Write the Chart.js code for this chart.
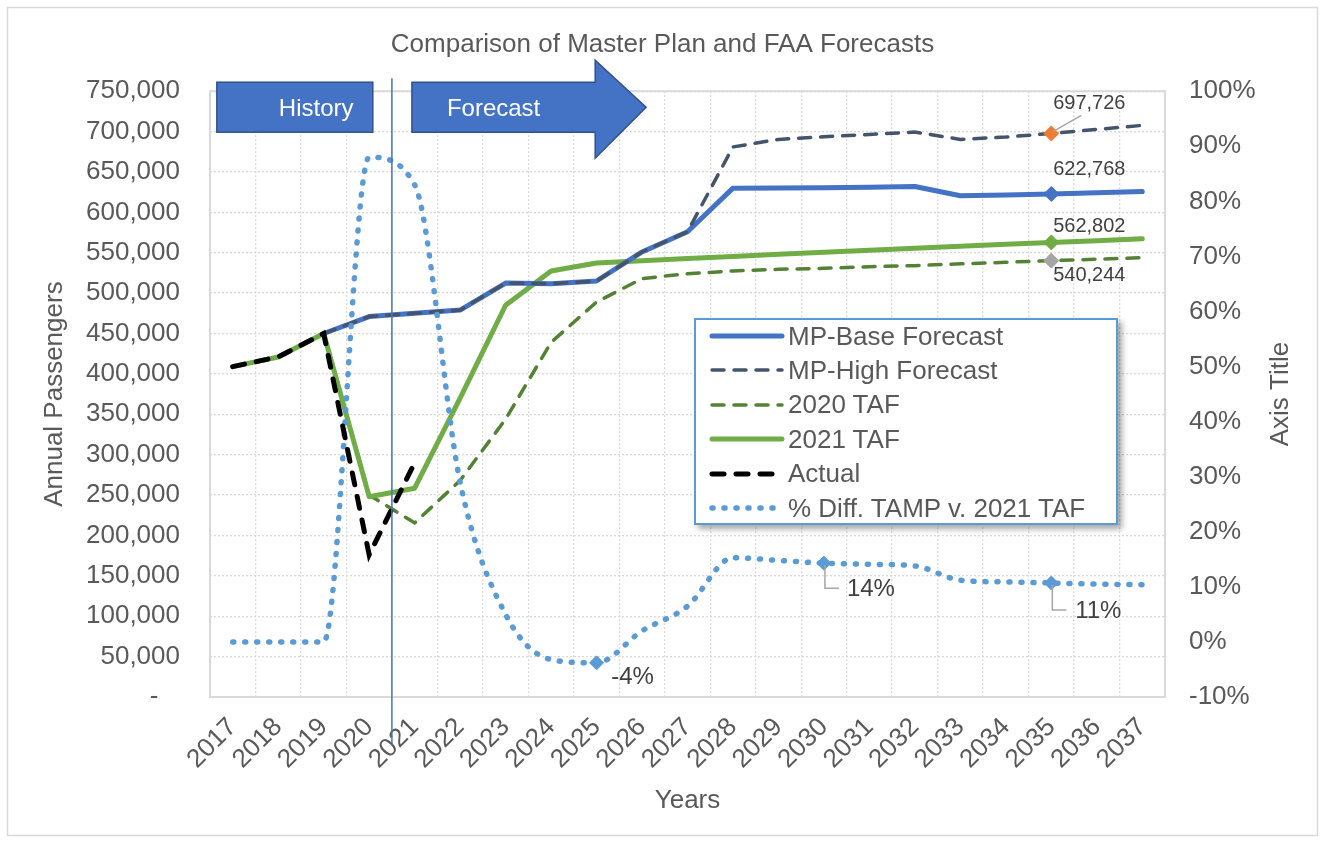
<!DOCTYPE html>
<html>
<head>
<meta charset="utf-8">
<script src="https://cdn.jsdelivr.net/npm/chart.js@4.4.1/dist/chart.umd.min.js"></script>
<style>
    body { margin: 0; background: #fff; }
    #wrap { position: relative; width: 1325px; height: 843px; }
    #legend {
        position: absolute; left: 694px; top: 318px; width: 420px; height: 203px;
        border: 2px solid #5B9BD5; background: #fff;
        box-shadow: 4px 4px 6px rgba(0, 0, 0, 0.35);
        font-family: "Liberation Sans", Arial, sans-serif; font-size: 26px; color: #595959;
    }
    #legend .row { position: absolute; left: 13px; height: 34px; display: flex; align-items: center; white-space: nowrap; }
    #legend svg { margin-right: 3px; }
</style>
</head>
<body>
<div id="wrap">
    <canvas id="chart" width="1325" height="843"></canvas>
    <div id="legend"></div>
</div>
<script>
var years = ['2017', '2018', '2019', '2020', '2021', '2022', '2023', '2024', '2025', '2026', '2027',
    '2028', '2029', '2030', '2031', '2032', '2033', '2034', '2035', '2036', '2037'];

var mpBase = [null, null, 450000, 471000, 475000, 479000, 512500, 511500, 515000, 551000, 576000,
    630000, 630300, 630600, 631000, 632000, 620500, 621600, 622768, 624300, 625800];
var mpHigh = [null, null, 450000, 471000, 475000, 479000, 512500, 511500, 515000, 551000, 576000,
    681000, 690300, 693600, 696500, 699400, 690300, 693200, 697726, 702700, 707700];
var taf2020 = [409000, 421000, 450000, 250000, 215500, 268000, 344000, 439000, 489000, 518000, 524000,
    527400, 529500, 530700, 532700, 534000, 536300, 538200, 540244, 541900, 543900];
var taf2021 = [409000, 421000, 450000, 248000, 258500, 370000, 485000, 527500, 537300, 540000, 543000,
    545500, 548000, 550500, 553000, 555500, 558000, 560500, 562802, 565000, 567200];
var actual = [409000, 421000, 450000, 176000, 290000, null, null, null, null, null, null,
    null, null, null, null, null, null, null, null, null, null];
var pctDiff = [0, 0, 0, 88, 83, 29, 5, -3.2, -3.8, 2, 6.5,
    15.3, 14.8, 14.3, 14.1, 13.8, 11.2, 10.9, 10.7, 10.5, 10.4];

var FONT = '"Liberation Sans", Arial, sans-serif';
var GREY = '#595959';
var markYear = 18;            // 2035
var pctMarks = [8, 13, 18];   // 2025, 2030, 2035

function onlyAt(idx, size) {
    return function(c) { return idx.indexOf(c.dataIndex) >= 0 ? size : 0; };
}

var decor = {
    id: 'decor',
    beforeDraw: function(chart) {
        var ctx = chart.ctx;
        ctx.save();
        ctx.fillStyle = '#fff';
        ctx.fillRect(0, 0, chart.width, chart.height);
        ctx.strokeStyle = '#D9D9D9';
        ctx.lineWidth = 1.5;
        ctx.strokeRect(7.5, 7.5, chart.width - 15, chart.height - 15);
        ctx.restore();
    },
    beforeDatasetsDraw: function(chart) {
        var ctx = chart.ctx, a = chart.chartArea;
        ctx.save();
        ctx.strokeStyle = '#D9D9D9';
        ctx.lineWidth = 2;
        ctx.strokeRect(a.left, a.top, a.right - a.left, a.bottom - a.top);
        ctx.restore();
    },
    afterDatasetsDraw: function(chart) {
        var ctx = chart.ctx;
        function pt(ds) { return chart.getDatasetMeta(ds).data[markYear]; }
        ctx.save();
        ctx.fillStyle = '#404040';
        ctx.strokeStyle = '#A6A6A6';
        ctx.lineWidth = 1.5;
        ctx.textAlign = 'center';
        ctx.textBaseline = 'middle';
        ctx.font = '20px ' + FONT;

        var p = pt(1);
        ctx.beginPath();
        ctx.moveTo(p.x + 2, p.y - 2);
        ctx.lineTo(p.x + 30, p.y - 18);
        ctx.stroke();
        ctx.fillText(mpHigh[markYear].toLocaleString('en-US'), p.x + 38, p.y - 30);
        p = pt(0);
        ctx.fillText(mpBase[markYear].toLocaleString('en-US'), p.x + 38, p.y - 24);
        p = pt(3);
        ctx.fillText(taf2021[markYear].toLocaleString('en-US'), p.x + 38, p.y - 16);
        p = pt(2);
        ctx.fillText(taf2020[markYear].toLocaleString('en-US'), p.x + 38, p.y + 15);

        // percent call-outs
        var meta = chart.getDatasetMeta(5);
        ctx.font = '24px ' + FONT;
        p = meta.data[pctMarks[0]];
        ctx.fillText(Math.round(pctDiff[pctMarks[0]]) + '%', p.x + 36, p.y + 15);
        [[pctMarks[1], 26], [pctMarks[2], 28]].forEach(function(m) {
            var q = meta.data[m[0]];
            ctx.beginPath();
            ctx.moveTo(q.x + 1, q.y + 2);
            ctx.lineTo(q.x + 1, q.y + m[1] - 1);
            ctx.lineTo(q.x + 15, q.y + m[1] - 1);
            ctx.stroke();
            ctx.fillText(Math.round(pctDiff[m[0]]) + '%', q.x + 47, q.y + m[1]);
        });
        ctx.restore();
    },
    afterDraw: function(chart) {
        var ctx = chart.ctx, xs = chart.scales.x, a = chart.chartArea;
        var top = a.top;
        var split = xs.getPixelForValue(3.5);
        ctx.save();

        // history / forecast banners
        ctx.fillStyle = '#4472C4';
        ctx.strokeStyle = '#2F528F';
        ctx.lineWidth = 1.5;
        var hL = xs.getPixelForValue(-0.35), hR = xs.getPixelForValue(3.08);
        ctx.fillRect(hL, top - 9, hR - hL, 50);
        ctx.strokeRect(hL, top - 9, hR - hL, 50);
        var fL = xs.getPixelForValue(3.94), fR = xs.getPixelForValue(7.97), tip = xs.getPixelForValue(9.09);
        ctx.beginPath();
        ctx.moveTo(fL, top - 9);
        ctx.lineTo(fR, top - 9);
        ctx.lineTo(fR, top - 31);
        ctx.lineTo(tip, top + 16);
        ctx.lineTo(fR, top + 67);
        ctx.lineTo(fR, top + 41);
        ctx.lineTo(fL, top + 41);
        ctx.closePath();
        ctx.fill();
        ctx.stroke();
        ctx.fillStyle = '#fff';
        ctx.font = '24px ' + FONT;
        ctx.textBaseline = 'middle';
        ctx.textAlign = 'left';
        ctx.fillText('History', hL + 62, top + 18);
        ctx.fillText('Forecast', fL + 35, top + 18);

        // history / forecast divider
        ctx.strokeStyle = '#4472C4';
        ctx.lineWidth = 1.5;
        ctx.beginPath();
        ctx.moveTo(split, top - 13);
        ctx.lineTo(split, a.bottom + 48);
        ctx.stroke();

        // secondary axis title
        ctx.fillStyle = GREY;
        ctx.font = '26px ' + FONT;
        ctx.textAlign = 'center';
        ctx.translate(a.right + 116, (a.top + a.bottom) / 2);
        ctx.rotate(-Math.PI / 2);
        ctx.fillText('Axis Title', 0, 0);
        ctx.restore();
    }
};

var chart = new Chart(document.getElementById('chart'), {
    type: 'line',
    data: {
        labels: years,
        datasets: [
            {
                label: 'MP-Base Forecast', data: mpBase, yAxisID: 'y', order: 3,
                borderColor: '#4472C4', borderWidth: 5, borderCapStyle: 'round', borderJoinStyle: 'round',
                pointStyle: 'rectRot', pointRadius: onlyAt([markYear], 7.5),
                pointBackgroundColor: '#4472C4', pointBorderColor: '#4472C4', pointBorderWidth: 1
            },
            {
                label: 'MP-High Forecast', data: mpHigh, yAxisID: 'y', order: 2,
                borderColor: '#44546A', borderWidth: 3.5, borderDash: [12, 10], borderCapStyle: 'round',
                pointStyle: 'rectRot', pointRadius: onlyAt([markYear], 7.5),
                pointBackgroundColor: '#ED7D31', pointBorderColor: '#ED7D31', pointBorderWidth: 1
            },
            {
                label: '2020 TAF', data: taf2020, yAxisID: 'y', order: 5,
                borderColor: '#548235', borderWidth: 3.5, borderDash: [12, 10], borderCapStyle: 'round',
                pointStyle: 'rectRot', pointRadius: onlyAt([markYear], 7.5),
                pointBackgroundColor: '#A5A5A5', pointBorderColor: '#A5A5A5', pointBorderWidth: 1
            },
            {
                label: '2021 TAF', data: taf2021, yAxisID: 'y', order: 4,
                borderColor: '#70AD47', borderWidth: 5, borderCapStyle: 'round', borderJoinStyle: 'round',
                pointStyle: 'rectRot', pointRadius: onlyAt([markYear], 7.5),
                pointBackgroundColor: '#70AD47', pointBorderColor: '#70AD47', pointBorderWidth: 1
            },
            {
                label: 'Actual', data: actual, yAxisID: 'y', order: 0,
                borderColor: '#000000', borderWidth: 5, borderDash: [12, 12], borderCapStyle: 'round',
                pointRadius: 0
            },
            {
                label: '% Diff. TAMP v. 2021 TAF', data: pctDiff, yAxisID: 'y1', order: 1,
                borderColor: '#5B9BD5', borderWidth: 5.5, borderDash: [1, 11], borderCapStyle: 'round',
                cubicInterpolationMode: 'monotone',
                pointStyle: 'rectRot', pointRadius: onlyAt(pctMarks, 7),
                pointBackgroundColor: '#5B9BD5', pointBorderColor: '#5B9BD5', pointBorderWidth: 1
            }
        ]
    },
    options: {
        responsive: false,
        animation: false,
        events: [],
        layout: { padding: 0 },
        plugins: {
            legend: { display: false },
            tooltip: { enabled: false },
            title: {
                display: true,
                text: 'Comparison of Master Plan and FAA Forecasts',
                color: GREY,
                font: { family: FONT, size: 26, weight: 'normal' },
                padding: { top: 29, bottom: 31 }
            }
        },
        scales: {
            x: {
                offset: true,
                grid: { offset: true, color: '#D9D9D9', lineWidth: 1.3, drawTicks: false },
                border: { display: false, dash: [2, 2] },
                ticks: { autoSkip: false, maxRotation: 45, minRotation: 45, padding: 15, color: GREY, font: { family: FONT, size: 26 } },
                title: { display: true, text: 'Years', color: GREY, font: { family: FONT, size: 26 }, padding: { top: 0, bottom: 27 } },
                afterFit: function(s) { s.height = 146; }
            },
            y: {
                position: 'left',
                min: 0,
                max: 750000,
                grid: { color: '#D9D9D9', lineWidth: 1.3, drawTicks: false },
                border: { display: false, dash: [2, 2] },
                ticks: {
                    stepSize: 50000, padding: 30, color: GREY, font: { family: FONT, size: 26 },
                    callback: function(v) { return v === 0 ? '-   ' : v.toLocaleString('en-US'); }
                },
                title: { display: true, text: 'Annual Passengers', color: GREY, font: { family: FONT, size: 26 }, padding: { top: 39, bottom: 0 } },
                afterFit: function(s) { s.width = 210; }
            },
            y1: {
                position: 'right',
                min: -10,
                max: 100,
                grid: { display: false, drawTicks: false },
                border: { display: false },
                ticks: {
                    stepSize: 10, padding: 24, color: GREY, font: { family: FONT, size: 26 },
                    callback: function(v) { return v + '%'; }
                },
                afterFit: function(s) { s.width = 160; }
            }
        }
    },
    plugins: [decor]
});

// legend built from the chart's own datasets
var legendBox = document.getElementById('legend');
chart.data.datasets.forEach(function(ds, i) {
    var row = document.createElement('div');
    row.className = 'row';
    row.style.top = (-1 + i * 34.4) + 'px';
    var dash = ds.borderDash ? ds.borderDash.join(',') : 'none';
    row.innerHTML = '<svg width="76" height="14"><line x1="3" y1="7" x2="73" y2="7" stroke="' + ds.borderColor +
        '" stroke-width="' + ds.borderWidth + '" stroke-dasharray="' + dash + '" stroke-linecap="round"/></svg>' +
        '<span>' + ds.label + '</span>';
    legendBox.appendChild(row);
});
</script>
</body>
</html>
